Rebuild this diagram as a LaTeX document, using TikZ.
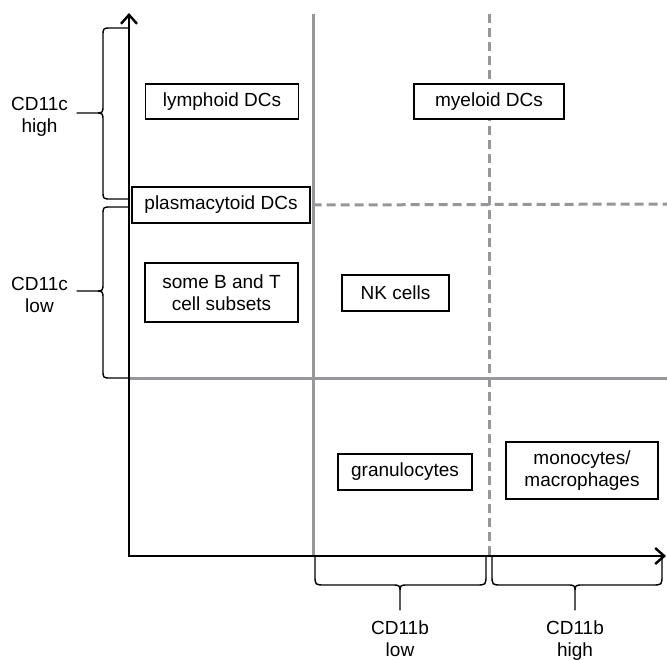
\documentclass[tikz,border=0pt]{standalone}
\usepackage{fontspec}
\setmainfont{Liberation Sans}
\usetikzlibrary{arrows.meta}
\definecolor{gridgray}{RGB}{150,150,155}
\begin{document}
\begin{tikzpicture}[x=1pt,y=-1pt,
  cellbox/.style={draw, fill=white, line width=1.3pt, inner sep=0pt, align=center, font=\fontsize{19}{22}\selectfont},
  axislabel/.style={inner sep=0pt, align=center, anchor=north, font=\fontsize{19}{22}\selectfont},
  axisline/.style={line width=2.6pt, -{Straight Barb[length=9pt,width=16pt,line width=2.4pt]}},
  grayline/.style={line width=3pt, draw=gridgray},
  graydash/.style={grayline, dash pattern=on 9pt off 5pt},
  bracepath/.style={line width=1.4pt, line join=round}
]
\useasboundingbox (0,0) rectangle (667,659);

% grid lines
\coordinate (vs1) at (313,14);  \coordinate (vs2) at (313,556);
\coordinate (vd1) at (489,14);  \coordinate (vd2) at (489,556);
\coordinate (hs1) at (129,378); \coordinate (hs2) at (667,378);
\coordinate (hd2) at (667,204);
\draw[grayline] (vs1) -- (vs2);
\draw[graydash] (vd1) -- (vd2);
\draw[grayline] (hs1) -- (hs2);

% axes
\coordinate (origin) at (129,556);
\coordinate (ytip) at (129,13);
\coordinate (xtip) at (666,556);
\draw[axisline] (origin) -- (ytip);
\draw[axisline] ([xshift=-1.3pt]origin) -- (xtip);

% boxes
\node[cellbox, minimum width=153pt, minimum height=35pt] (lymph) at (222,101.5) {lymphoid DCs};
\node[cellbox, minimum width=150pt, minimum height=35pt] (myelo) at (489,101.5) {myeloid DCs};
\node[cellbox, minimum width=178pt, minimum height=36pt] (plasma) at (221,205) {plasmacytoid DCs};
\node[cellbox, minimum width=153pt, minimum height=59pt] (bt) at (221.5,292.5) {some B and T\\cell subsets};
\node[cellbox, minimum width=107pt, minimum height=36pt] (nk) at (395.5,293) {NK cells};
\node[cellbox, minimum width=134pt, minimum height=36pt] (gran) at (405,472) {granulocytes};
\node[cellbox, minimum width=152pt, minimum height=57pt] (mono) at (582,470.5) {monocytes/\\macrophages};

\draw[graydash] ([xshift=2pt]plasma.east) -- (hd2);

% left braces (CD11c)
\draw[bracepath] (129,28) -- (111,28) .. controls (103,28) .. (103,36) -- (103,105)
  .. controls (103,113) .. (95,113) -- (77,113) -- (95,113) .. controls (103,113) .. (103,121)
  -- (103,191) .. controls (103,199) .. (111,199) -- (129,199);
\draw[bracepath] (129,207) -- (111,207) .. controls (103,207) .. (103,215) -- (103,283)
  .. controls (103,291) .. (95,291) -- (77,291) -- (95,291) .. controls (103,291) .. (103,299)
  -- (103,370) .. controls (103,378) .. (111,378) -- (129,378);

% bottom braces (CD11b)
\draw[bracepath] (315,556) -- (315,575) .. controls (315,585) .. (325,585) -- (392,585)
  .. controls (400,585) .. (400,593) -- (400,610) -- (400,593) .. controls (400,585) .. (408,585)
  -- (476,585) .. controls (486,585) .. (486,575) -- (486,556);
\draw[bracepath] (492,556) -- (492,575) .. controls (492,585) .. (502,585) -- (567,585)
  .. controls (575,585) .. (575,593) -- (575,610) -- (575,593) .. controls (575,585) .. (583,585)
  -- (652,585) .. controls (662,585) .. (662,575) -- (662,556);

% labels
\node[axislabel] (chigh) at (39.5,97) {CD11c\\high};
\node[axislabel] (clow) at (39.5,277) {CD11c\\low};
\node[axislabel] (blow) at (400,621) {CD11b\\low};
\node[axislabel] (bhigh) at (575,621) {CD11b\\high};
\end{tikzpicture}
\end{document}
